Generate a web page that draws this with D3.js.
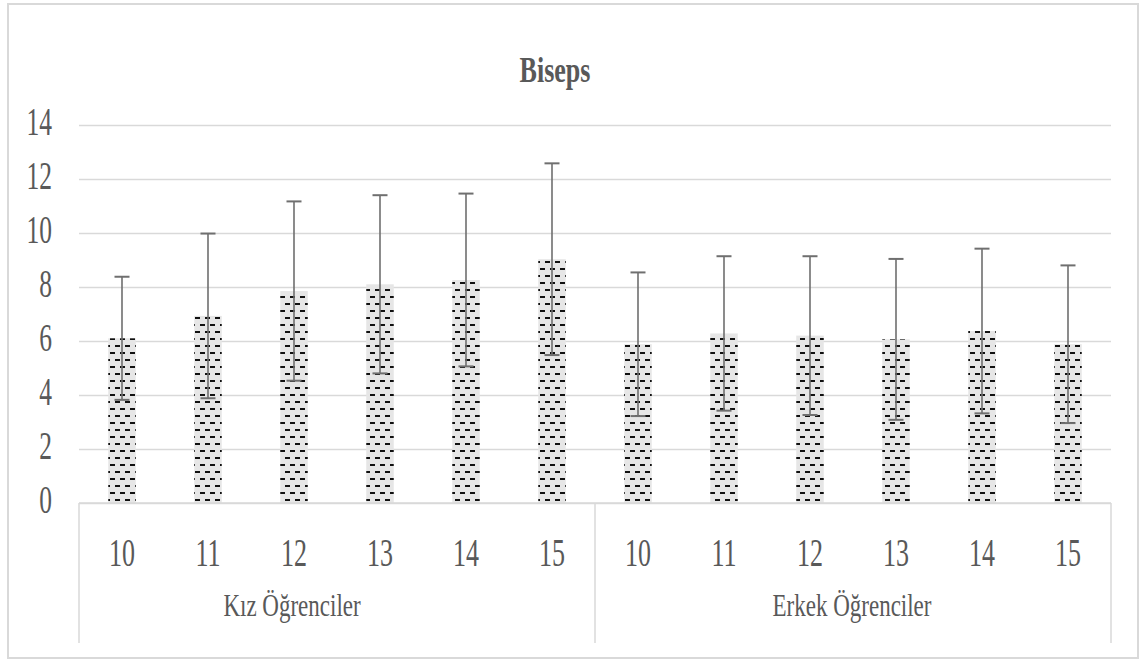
<!DOCTYPE html>
<html>
<head>
<meta charset="utf-8">
<script src="https://cdn.jsdelivr.net/npm/d3@7"></script>
<style>
  html, body { margin: 0; padding: 0; background: #fff; }
  svg { display: block; }
  text { font-family: "Liberation Serif", "Times New Roman", serif; fill: #595959; }
</style>
</head>
<body>
<svg id="chart" width="1146" height="661"></svg>
<script>
// Biseps: mean with standard deviation, by age, for girls and boys
const title = "Biseps";
const groups = ["Kız Öğrenciler", "Erkek Öğrenciler"];
const ages = ["10", "11", "12", "13", "14", "15"];
const kizMean = [6.1, 6.93, 7.85, 8.1, 8.26, 9.03];
const kizSD = [2.28, 3.05, 3.32, 3.3, 3.2, 3.55];
const erkekMean = [5.88, 6.28, 6.2, 6.06, 6.37, 5.88];
const erkekSD = [2.66, 2.86, 2.94, 2.98, 3.05, 2.92];
const yTicks = [0, 2, 4, 6, 8, 10, 12, 14];

const rows = [];
groups.forEach((g, gi) => {
  const m = gi === 0 ? kizMean : erkekMean;
  const s = gi === 0 ? kizSD : erkekSD;
  ages.forEach((a, i) => rows.push({ key: g + "|" + a, group: g, age: a, mean: m[i], sd: s[i] }));
});

const svg = d3.select("#chart");
const plotL = 79, plotR = 1111, plotT = 125, plotB = 503;

const x = d3.scaleBand().domain(rows.map(d => d.key)).range([plotL, plotR]).paddingInner(0).paddingOuter(0);
const y = d3.scaleLinear().domain([0, 14]).range([plotB, plotT]);
const barW = x.bandwidth() * 0.32;

// fill: light gray with short horizontal dashes, staggered row to row
const defs = svg.append("defs");
const pat = defs.append("pattern")
  .attr("id", "dashFill").attr("patternUnits", "userSpaceOnUse")
  .attr("width", 10).attr("height", 14);
pat.append("rect").attr("width", 10).attr("height", 14).attr("fill", "#e6e6e6");
pat.append("rect").attr("x", 0).attr("y", 2).attr("width", 5).attr("height", 2).attr("fill", "#111");
pat.append("rect").attr("x", 5).attr("y", 9).attr("width", 5).attr("height", 2).attr("fill", "#111");

// outer frame
svg.append("rect").attr("x", 8).attr("y", 4).attr("width", 1130).attr("height", 654)
  .attr("fill", "none").attr("stroke", "#d9d9d9").attr("stroke-width", 2);

// title
svg.append("text").attr("transform", "translate(555,82) scale(1,1.38)")
  .attr("text-anchor", "middle").attr("font-size", 26).attr("font-weight", "bold")
  .text(title);

// gridlines + y tick labels
const yAxis = d3.axisLeft(y).tickValues(yTicks).tickSize(-(plotR - plotL)).tickFormat(d3.format("d"));
const gy = svg.append("g").attr("transform", `translate(${plotL},0)`).call(yAxis);
gy.select(".domain").remove();
gy.selectAll(".tick line").attr("stroke", "#d9d9d9").attr("stroke-width", 1.5);
gy.selectAll(".tick text").remove();
gy.selectAll(".tick").append("text")
  .attr("transform", "translate(-27,9) scale(1,1.55)")
  .attr("text-anchor", "end").attr("font-size", 25.5)
  .text(d => d);

// bars
svg.append("g").selectAll("rect").data(rows).join("rect")
  .attr("x", d => x(d.key) + (x.bandwidth() - barW) / 2)
  .attr("y", d => y(d.mean))
  .attr("width", barW)
  .attr("height", d => y(0) - y(d.mean))
  .attr("fill", "url(#dashFill)");

// error bars
const eg = svg.append("g").attr("stroke", "#6f6f6f").attr("stroke-width", 1.6);
rows.forEach(d => {
  const cx = x(d.key) + x.bandwidth() / 2;
  const hi = y(d.mean + d.sd), lo = y(d.mean - d.sd);
  eg.append("line").attr("x1", cx).attr("x2", cx).attr("y1", hi).attr("y2", lo);
  eg.append("line").attr("x1", cx - 7.5).attr("x2", cx + 7.5).attr("y1", hi).attr("y2", hi).attr("stroke-width", 2);
  eg.append("line").attr("x1", cx - 7.5).attr("x2", cx + 7.5).attr("y1", lo).attr("y2", lo).attr("stroke-width", 2);
});

// category axis box
const axisG = svg.append("g").attr("stroke", "#d9d9d9").attr("stroke-width", 1.5);
axisG.append("line").attr("x1", plotL).attr("x2", plotR).attr("y1", plotB).attr("y2", plotB);
const groupEdges = [plotL, x(rows[6].key), plotR];
groupEdges.forEach(gx => {
  axisG.append("line").attr("x1", gx).attr("x2", gx).attr("y1", plotB).attr("y2", 643);
});

// age labels
svg.append("g").selectAll("text").data(rows).join("text")
  .attr("transform", d => `translate(${x(d.key) + x.bandwidth() / 2},566) scale(1,1.55)`)
  .attr("text-anchor", "middle").attr("font-size", 26)
  .text(d => d.age);

// group labels
const groupCenters = [292, 852];
svg.append("g").selectAll("text").data(groups).join("text")
  .attr("transform", (d, i) => `translate(${groupCenters[i]},616) scale(1,1.4)`)
  .attr("text-anchor", "middle").attr("font-size", 23)
  .text(d => d);
</script>
</body>
</html>
